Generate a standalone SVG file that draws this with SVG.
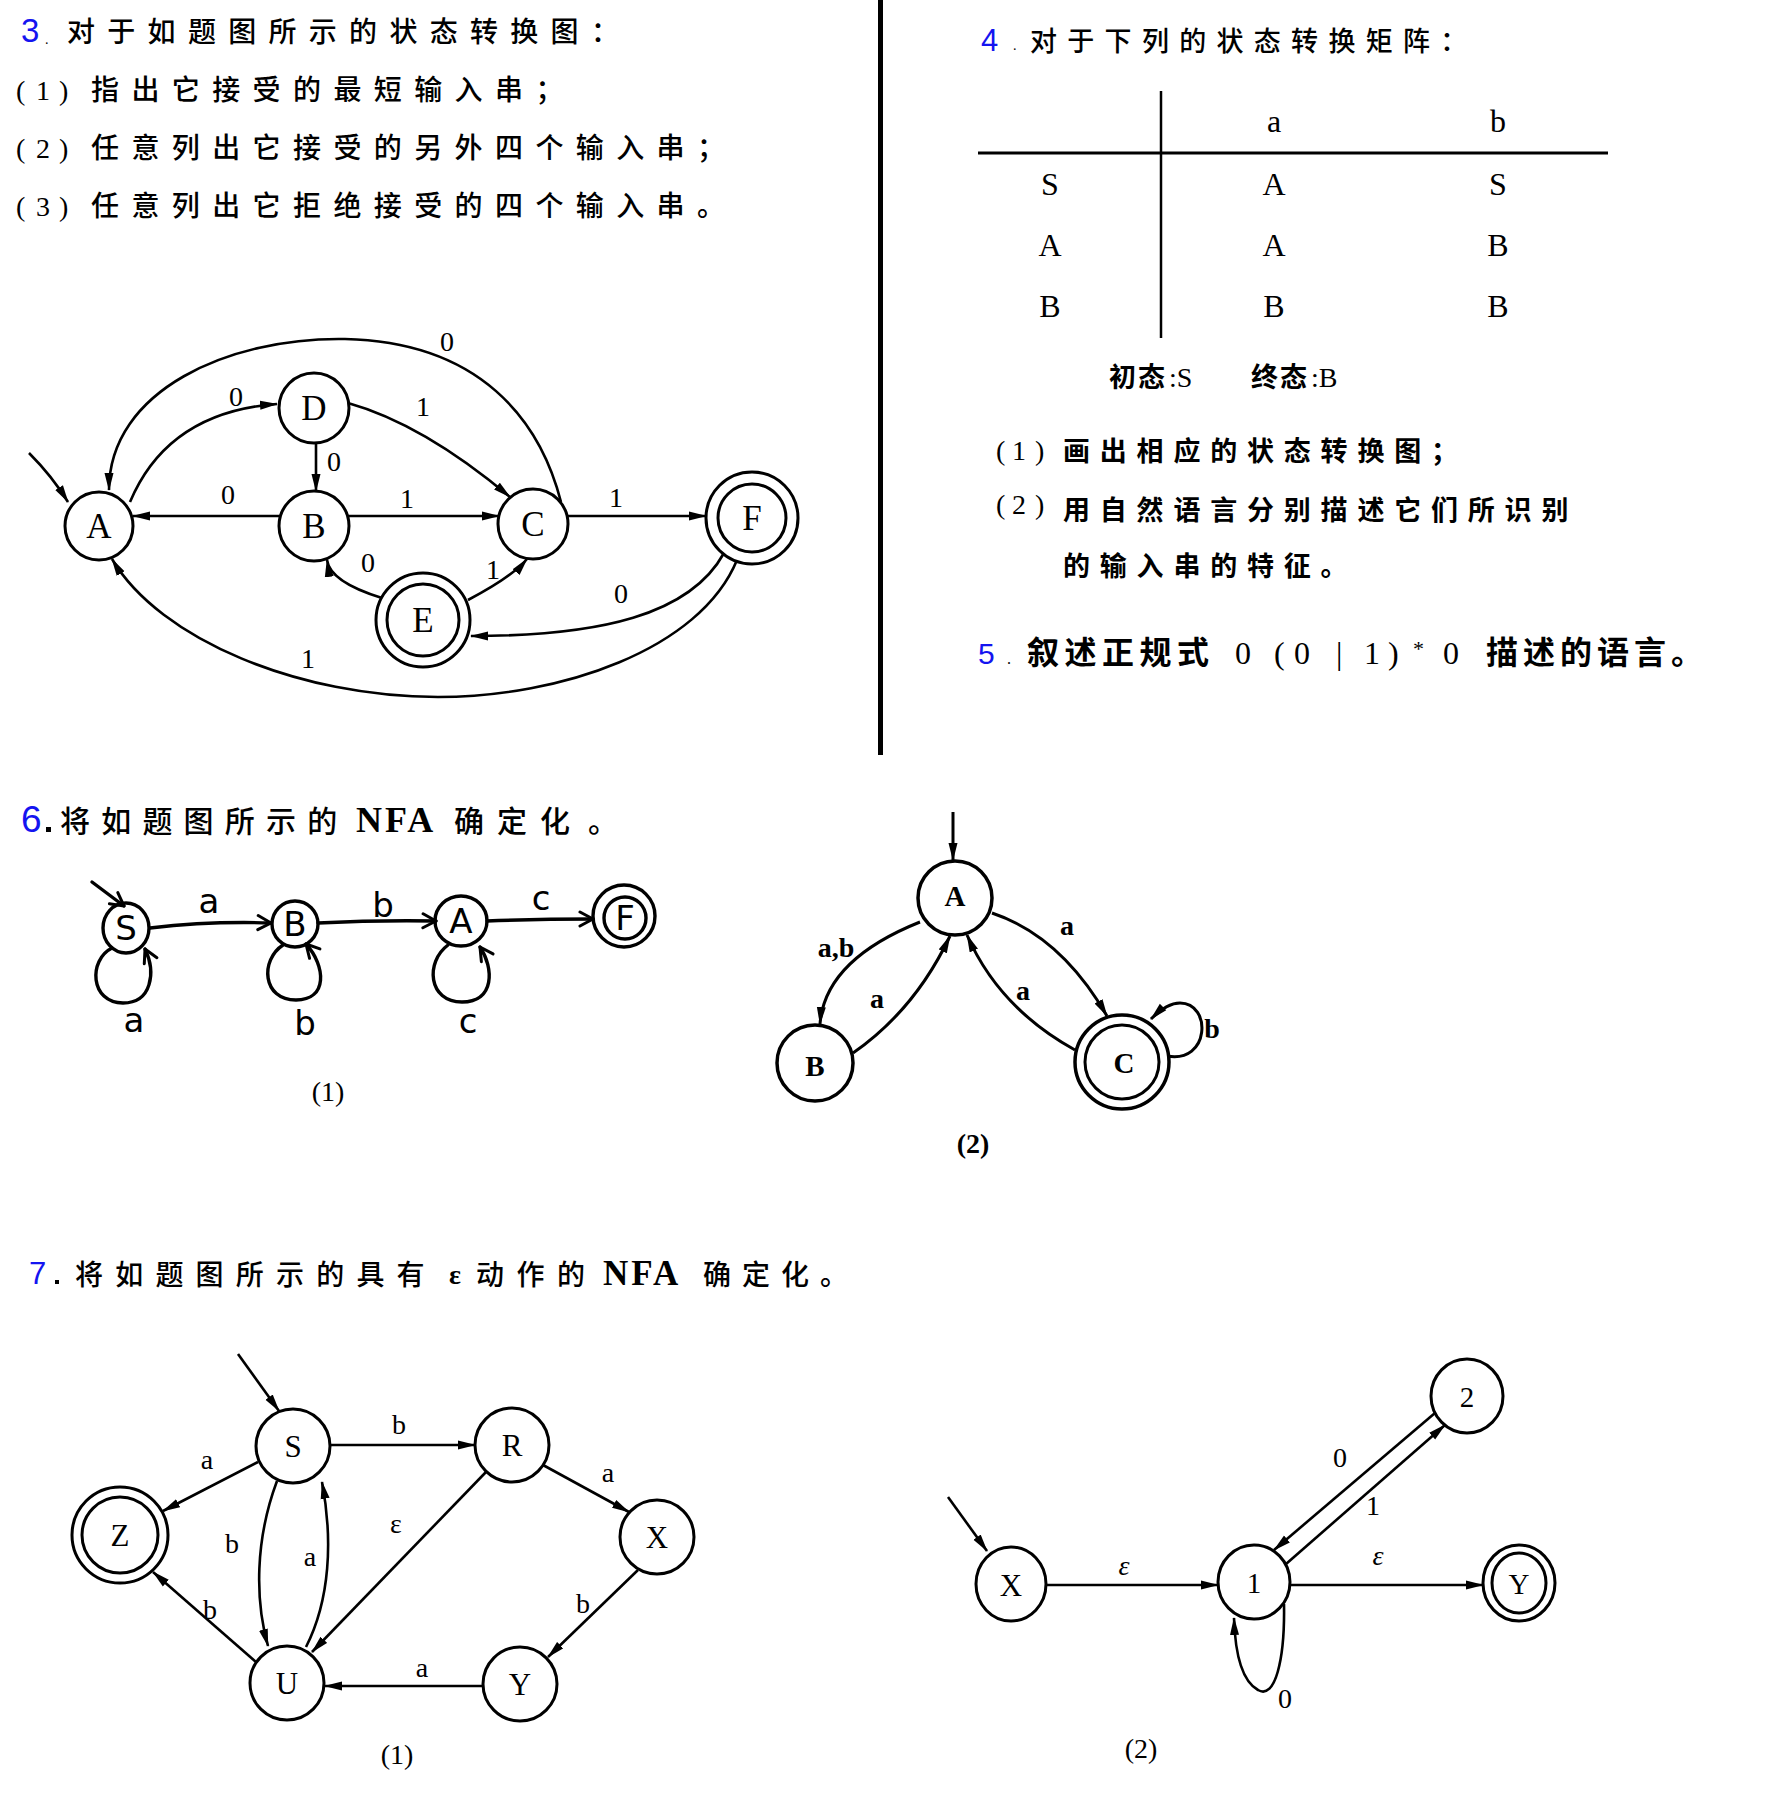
<svg xmlns="http://www.w3.org/2000/svg" width="1786" height="1802" viewBox="0 0 1786 1802">
<defs>
<style>
.cjk{font-family:"Noto Sans CJK SC",sans-serif;font-weight:500;fill:#000}
.b7{font-weight:700}
.num{font-family:"Liberation Sans",Arial,sans-serif;fill:#1414f0}
.ser{font-family:"Liberation Serif","Times New Roman",serif;fill:#000}
.node{fill:#fff;stroke:#000;stroke-width:3}
.edge{fill:none;stroke:#000;stroke-width:2.6}
.lbl{font-family:"Liberation Serif","Times New Roman",serif;font-size:28px;text-anchor:middle;fill:#000}
.nl{font-family:"Liberation Serif","Times New Roman",serif;text-anchor:middle;fill:#000}
.hand{fill:none;stroke:#000;stroke-width:3.4;stroke-linecap:round;stroke-linejoin:round}
.hl{font-family:"DejaVu Sans",sans-serif;font-size:34px;text-anchor:middle;fill:#000}
</style>
<marker id="ah" markerUnits="userSpaceOnUse" markerWidth="18" markerHeight="10" viewBox="0 0 18 10" refX="17" refY="5" orient="auto"><path d="M0,0.5 L18,5 L0,9.5 Z" fill="#000"/></marker>
<marker id="ho" markerUnits="userSpaceOnUse" markerWidth="18" markerHeight="18" viewBox="-16 -9 18 18" refX="0" refY="0" orient="auto"><path d="M-13,-7 L0,0 L-13,7" fill="none" stroke="#000" stroke-width="3" stroke-linecap="round" stroke-linejoin="round"/></marker>
</defs>
<rect width="1786" height="1802" fill="#fff"/>

<!-- divider -->
<rect x="878" y="0" width="5" height="755" fill="#000"/>

<!-- ===== Section 3 text ===== -->
<g id="q3-text">
<text class="num" x="21" y="42" font-size="33">3</text>
<text class="ser" x="45" y="44" font-size="14">.</text>
<text class="cjk" x="67" y="42" font-size="28" style="letter-spacing:12.3px">对于如题图所示的状态转换图：</text>
<text class="ser" x="16 36 59" y="100" font-size="28">(1)</text>
<text class="cjk" x="91" y="100" font-size="28" style="letter-spacing:12.4px">指出它接受的最短输入串；</text>
<text class="ser" x="16 36 59" y="158" font-size="28">(2)</text>
<text class="cjk" x="91" y="158" font-size="28" style="letter-spacing:12.4px">任意列出它接受的另外四个输入串；</text>
<text class="ser" x="16 36 59" y="216" font-size="28">(3)</text>
<text class="cjk" x="91" y="216" font-size="28" style="letter-spacing:12.4px">任意列出它拒绝接受的四个输入串。</text>
</g>

<!-- ===== Section 3 graph ===== -->
<g id="q3-connectors">
<path class="edge" d="M29,453 Q52,476 68,502" marker-end="url(#ah)"/>
<path class="edge" d="M130,502 Q168,412 277,404" marker-end="url(#ah)"/>
<path class="edge" d="M561,502 C540,420 480,342 345,339 C230,337 109,390 109,490" marker-end="url(#ah)"/>
<path class="edge" d="M348,403 Q423,424 510,497" marker-end="url(#ah)"/>
<path class="edge" d="M316,443 L316,491" marker-end="url(#ah)"/>
<path class="edge" d="M280,516 L133,516" marker-end="url(#ah)"/>
<path class="edge" d="M348,516 L499,516" marker-end="url(#ah)"/>
<path class="edge" d="M568,516 L706,516" marker-end="url(#ah)"/>
<path class="edge" d="M382,598 Q330,582 327,560" marker-end="url(#ah)"/>
<path class="edge" d="M468,600 Q512,577 527,559" marker-end="url(#ah)"/>
<path class="edge" d="M724,553 C690,615 600,636 471,636" marker-end="url(#ah)"/>
<path class="edge" d="M737,560 C700,650 560,697 438,697 C300,697 160,640 112,559" marker-end="url(#ah)"/>
<text class="lbl" x="236" y="406">0</text>
<text class="lbl" x="447" y="351">0</text>
<text class="lbl" x="423" y="416">1</text>
<text class="lbl" x="334" y="471">0</text>
<text class="lbl" x="228" y="504">0</text>
<text class="lbl" x="407" y="508">1</text>
<text class="lbl" x="616" y="507">1</text>
<text class="lbl" x="368" y="572">0</text>
<text class="lbl" x="493" y="579">1</text>
<text class="lbl" x="621" y="603">0</text>
<text class="lbl" x="308" y="668">1</text>
</g>
<g id="q3-A"><circle class="node" cx="99" cy="526" r="34"/><text class="nl" x="99" y="538" font-size="35">A</text></g>
<g id="q3-D"><circle class="node" cx="314" cy="408" r="35"/><text class="nl" x="314" y="420" font-size="35">D</text></g>
<g id="q3-B"><circle class="node" cx="314" cy="526" r="35"/><text class="nl" x="314" y="538" font-size="35">B</text></g>
<g id="q3-C"><circle class="node" cx="533" cy="524" r="35"/><text class="nl" x="533" y="536" font-size="35">C</text></g>
<g id="q3-E"><circle class="node" cx="423" cy="620" r="47"/><circle class="node" cx="423" cy="620" r="36"/><text class="nl" x="423" y="632" font-size="35">E</text></g>
<g id="q3-F"><circle class="node" cx="752" cy="518" r="46"/><circle class="node" cx="752" cy="518" r="34"/><text class="nl" x="752" y="530" font-size="35">F</text></g>

<!-- ===== Section 4 ===== -->
<g id="q4">
<text class="num" x="981" y="51" font-size="31">4</text>
<text class="ser" x="1013" y="50" font-size="14">.</text>
<text class="cjk" x="1030" y="51" font-size="27" style="letter-spacing:10.3px">对于下列的状态转换矩阵：</text>
<line x1="1161" y1="91" x2="1161" y2="338" stroke="#000" stroke-width="2.5"/>
<line x1="978" y1="153" x2="1608" y2="153" stroke="#000" stroke-width="2.8"/>
<g class="ser" font-size="32" text-anchor="middle">
<text x="1274" y="132">a</text><text x="1498" y="132">b</text>
<text x="1050" y="195">S</text><text x="1274" y="195">A</text><text x="1498" y="195">S</text>
<text x="1050" y="256">A</text><text x="1274" y="256">A</text><text x="1498" y="256">B</text>
<text x="1050" y="317">B</text><text x="1274" y="317">B</text><text x="1498" y="317">B</text>
</g>
<text class="cjk b7" x="1109" y="387" font-size="27" style="letter-spacing:2px">初态</text>
<text class="ser" x="1169" y="387" font-size="28">:S</text>
<text class="cjk b7" x="1251" y="387" font-size="27" style="letter-spacing:2px">终态</text>
<text class="ser" x="1311" y="387" font-size="28">:B</text>
<text class="ser" x="996 1012 1035" y="460" font-size="28">(1)</text>
<text class="cjk b7" x="1063" y="461" font-size="27" style="letter-spacing:9.8px">画出相应的状态转换图；</text>
<text class="ser" x="996 1012 1035" y="514" font-size="28">(2)</text>
<text class="cjk b7" x="1063" y="520" font-size="27" style="letter-spacing:9.8px">用自然语言分别描述它们所识别</text>
<text class="cjk b7" x="1063" y="576" font-size="27" style="letter-spacing:9.8px">的输入串的特征。</text>
</g>

<!-- ===== Section 5 ===== -->
<g id="q5">
<text class="num" x="978" y="664" font-size="30">5</text>
<text class="ser" x="1007" y="664" font-size="16">.</text>
<text class="cjk b7" x="1027" y="664" font-size="32" style="letter-spacing:5.5px">叙述正规式</text>
<text class="ser" x="1235 1274 1294 1336 1364 1388" y="664" font-size="32">0(0|1)</text>
<text class="ser" x="1413" y="656" font-size="22">*</text>
<text class="ser" x="1443" y="664" font-size="32">0</text>
<text class="cjk b7" x="1486" y="664" font-size="32" style="letter-spacing:5px">描述的语言。</text>
</g>

<!-- ===== Section 6 title ===== -->
<g id="q6-text">
<text class="num" x="21" y="832" font-size="37">6</text>
<rect x="46" y="827" width="5" height="5" fill="#000"/>
<text class="cjk" x="60" y="832" font-size="30" style="letter-spacing:11.2px">将如题图所示的</text>
<text class="ser" x="356" y="832" font-size="36" font-weight="bold" style="letter-spacing:3px">NFA</text>
<text class="cjk" x="454" y="832" font-size="30"><tspan x="454">确</tspan><tspan x="497">定</tspan><tspan x="540">化</tspan></text>
<text class="cjk" x="588" y="832" font-size="30">。</text>
</g>

<!-- ===== Section 6 (1) handwritten ===== -->
<g id="q6a-connectors">
<path class="hand" d="M92,882 L124,906" marker-end="url(#ho)"/>
<path class="hand" d="M150,928 Q210,921 271,923" marker-end="url(#ho)"/>
<path class="hand" d="M318,923 Q378,920 436,921" marker-end="url(#ho)"/>
<path class="hand" d="M487,921 Q540,919 593,919" marker-end="url(#ho)"/>
<path class="hand" d="M112,948 C88,960 90,1003 123,1003 C152,1003 156,972 145,949" marker-end="url(#ho)"/>
<path class="hand" d="M283,945 C260,960 262,1000 296,1000 C328,1000 326,966 306,944" marker-end="url(#ho)"/>
<path class="hand" d="M448,945 C425,962 428,1002 462,1002 C495,1002 494,968 480,947" marker-end="url(#ho)"/>
<text class="hl" x="209" y="913">a</text>
<text class="hl" x="383" y="917">b</text>
<text class="hl" x="541" y="910">c</text>
<text class="hl" x="134" y="1032">a</text>
<text class="hl" x="305" y="1035">b</text>
<text class="hl" x="468" y="1033">c</text>
</g>
<g id="q6a-S"><ellipse class="hand" cx="126" cy="928" rx="23" ry="25"/><text class="hl" x="126" y="940">S</text></g>
<g id="q6a-B"><ellipse class="hand" cx="295" cy="924" rx="23" ry="23"/><text class="hl" x="295" y="936">B</text></g>
<g id="q6a-A"><ellipse class="hand" cx="461" cy="921" rx="26" ry="25"/><text class="hl" x="461" y="933">A</text></g>
<g id="q6a-F"><circle class="hand" cx="624" cy="916" r="31"/><circle class="hand" cx="625" cy="918" r="21"/><text class="hl" x="625" y="930">F</text></g>
<text class="ser" x="328" y="1101" font-size="28" text-anchor="middle">(1)</text>

<!-- ===== Section 6 (2) ===== -->
<g id="q6b-connectors">
<path class="edge" style="stroke-width:3" d="M953,812 L953,860" marker-end="url(#ah)"/>
<path class="edge" style="stroke-width:3" d="M920,922 Q825,960 820,1024" marker-end="url(#ah)"/>
<path class="edge" style="stroke-width:3" d="M853,1053 Q915,1010 950,936" marker-end="url(#ah)"/>
<path class="edge" style="stroke-width:3" d="M992,913 Q1061,936 1107,1016" marker-end="url(#ah)"/>
<path class="edge" style="stroke-width:3" d="M1075,1050 Q999,1008 967,935" marker-end="url(#ah)"/>
<path class="edge" style="stroke-width:3" d="M1167,1056 C1210,1064 1212,1003 1180,1003 C1170,1003 1160,1010 1151,1019" marker-end="url(#ah)"/>
<g class="lbl" font-weight="bold">
<text x="836" y="957">a,b</text>
<text x="877" y="1008">a</text>
<text x="1067" y="935">a</text>
<text x="1023" y="1000">a</text>
<text x="1212" y="1038">b</text>
</g>
</g>
<g id="q6b-A"><circle class="node" style="stroke-width:3.5" cx="955" cy="898" r="37"/><text class="nl" x="955" y="906" font-size="29" font-weight="bold">A</text></g>
<g id="q6b-B"><circle class="node" style="stroke-width:3.5" cx="815" cy="1063" r="38"/><text class="nl" x="815" y="1076" font-size="29" font-weight="bold">B</text></g>
<g id="q6b-C"><circle class="node" style="stroke-width:3.5" cx="1122" cy="1062" r="47"/><circle class="node" style="stroke-width:3" cx="1122" cy="1062" r="37"/><text class="nl" x="1124" y="1073" font-size="29" font-weight="bold">C</text></g>
<text class="ser" x="973" y="1153" font-size="28" font-weight="bold" text-anchor="middle">(2)</text>

<!-- ===== Section 7 title ===== -->
<g id="q7-text">
<text class="num" x="29" y="1284" font-size="31">7</text>
<rect x="55" y="1280" width="4" height="4" fill="#000"/>
<text class="cjk" x="75" y="1285" font-size="28" style="letter-spacing:12.2px">将如题图所示的具有</text>
<text class="ser" x="449" y="1284" font-size="28" font-weight="bold">ε</text>
<text class="cjk" x="476" y="1285" font-size="28" style="letter-spacing:12.5px">动作的</text>
<text class="ser" x="603" y="1285" font-size="35" font-weight="bold" style="letter-spacing:3px">NFA</text>
<text class="cjk" x="703" y="1285" font-size="28" style="letter-spacing:11px">确定化。</text>
</g>

<!-- ===== Section 7 (1) ===== -->
<g id="q7a-connectors">
<path class="edge" d="M238,1354 L279,1411" marker-end="url(#ah)"/>
<path class="edge" d="M330,1445 L475,1445" marker-end="url(#ah)"/>
<path class="edge" d="M258,1462 L163,1511" marker-end="url(#ah)"/>
<path class="edge" d="M277,1481 C255,1540 255,1600 268,1646" marker-end="url(#ah)"/>
<path class="edge" d="M306,1647 C330,1600 333,1540 322,1482" marker-end="url(#ah)"/>
<path class="edge" d="M486,1472 L312,1652" marker-end="url(#ah)"/>
<path class="edge" d="M543,1465 L629,1512" marker-end="url(#ah)"/>
<path class="edge" d="M638,1570 L548,1657" marker-end="url(#ah)"/>
<path class="edge" d="M482,1686 L325,1686" marker-end="url(#ah)"/>
<path class="edge" d="M256,1662 L153,1572" marker-end="url(#ah)"/>
<text class="lbl" x="399" y="1434">b</text>
<text class="lbl" x="207" y="1469">a</text>
<text class="lbl" x="232" y="1553">b</text>
<text class="lbl" x="310" y="1566">a</text>
<text class="lbl" x="396" y="1533" font-size="24">ε</text>
<text class="lbl" x="608" y="1482">a</text>
<text class="lbl" x="583" y="1613">b</text>
<text class="lbl" x="422" y="1677">a</text>
<text class="lbl" x="210" y="1619">b</text>
</g>
<g id="q7a-S"><circle class="node" cx="293" cy="1446" r="37"/><text class="nl" x="293" y="1457" font-size="31">S</text></g>
<g id="q7a-R"><circle class="node" cx="512" cy="1445" r="37"/><text class="nl" x="512" y="1456" font-size="31">R</text></g>
<g id="q7a-X"><circle class="node" cx="657" cy="1537" r="37"/><text class="nl" x="657" y="1548" font-size="31">X</text></g>
<g id="q7a-Z"><circle class="node" cx="120" cy="1535" r="48"/><circle class="node" cx="120" cy="1535" r="38"/><text class="nl" x="120" y="1546" font-size="31">Z</text></g>
<g id="q7a-U"><circle class="node" cx="287" cy="1683" r="37"/><text class="nl" x="287" y="1694" font-size="31">U</text></g>
<g id="q7a-Y"><circle class="node" cx="520" cy="1684" r="37"/><text class="nl" x="520" y="1695" font-size="31">Y</text></g>
<text class="ser" x="397" y="1764" font-size="28" text-anchor="middle">(1)</text>

<!-- ===== Section 7 (2) ===== -->
<g id="q7b-connectors">
<path class="edge" d="M948,1497 L987,1551" marker-end="url(#ah)"/>
<path class="edge" d="M1047,1585 L1218,1585" marker-end="url(#ah)"/>
<path class="edge" d="M1290,1585 L1483,1585" marker-end="url(#ah)"/>
<path class="edge" d="M1435,1413 L1274,1550" marker-end="url(#ah)"/>
<path class="edge" d="M1286,1564 L1445,1425" marker-end="url(#ah)"/>
<path class="edge" d="M1284,1604 C1285,1660 1275,1700 1258,1690 C1240,1680 1235,1650 1234,1618" marker-end="url(#ah)"/>
<text class="lbl" x="1124" y="1575" font-style="italic">ε</text>
<text class="lbl" x="1378" y="1565" font-style="italic">ε</text>
<text class="lbl" x="1340" y="1467" font-size="25">0</text>
<text class="lbl" x="1373" y="1515" font-size="25">1</text>
<text class="lbl" x="1285" y="1708" font-size="25">0</text>
</g>
<g id="q7b-X"><ellipse class="node" cx="1011" cy="1584" rx="35" ry="37"/><text class="nl" x="1011" y="1596" font-size="31">X</text></g>
<g id="q7b-1"><ellipse class="node" cx="1254" cy="1582" rx="36" ry="37"/><text class="nl" x="1254" y="1593" font-size="29">1</text></g>
<g id="q7b-2"><ellipse class="node" cx="1467" cy="1396" rx="36" ry="37"/><text class="nl" x="1467" y="1407" font-size="29">2</text></g>
<g id="q7b-Y"><ellipse class="node" cx="1519" cy="1583" rx="36" ry="38"/><ellipse class="node" cx="1519" cy="1583" rx="27" ry="30"/><text class="nl" x="1519" y="1594" font-size="29">Y</text></g>
<text class="ser" x="1141" y="1758" font-size="28" text-anchor="middle">(2)</text>
</svg>
